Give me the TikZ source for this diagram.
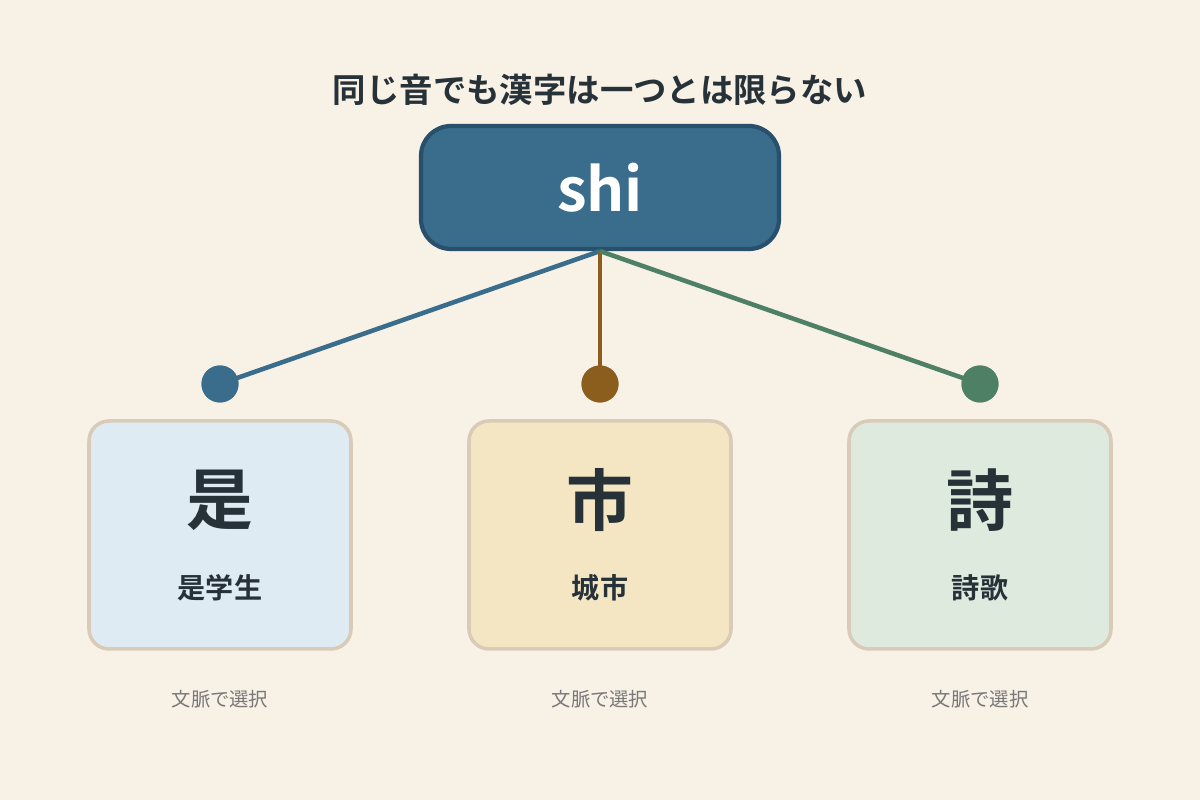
\documentclass[tikz,border=0pt]{standalone}
\usepackage{fontspec}
\setmainfont{Noto Sans CJK JP}
\newfontfamily\cjkbold{Noto Sans CJK JP Bold}
\usetikzlibrary{calc}
\definecolor[named]{myColorBg}{RGB}{247,241,230}
\definecolor[named]{myColorText}{RGB}{38,50,56}
\definecolor[named]{myColorBlue}{RGB}{58,109,140}
\definecolor[named]{myColorBlueDark}{RGB}{40,80,108}
\definecolor[named]{myColorBrown}{RGB}{139,94,30}
\definecolor[named]{myColorGreen}{RGB}{78,128,102}
\definecolor[named]{myColorBorder}{RGB}{217,203,184}
\definecolor[named]{myColorGray}{RGB}{120,120,120}
\begin{document}
\begin{tikzpicture}
[%
    root/.style={
      rectangle,
      draw=myColorBlueDark,
      line width=1.2pt,
      fill=myColorBlue,
      rounded corners=0.3cm,
      minimum width=3.58cm,
      minimum height=1.23cm,
      text=white,
      font=\cjkbold\fontsize{17}{20}\selectfont
    },
    card/.style={
      rectangle,
      draw=myColorBorder,
      line width=1pt,
      rounded corners=0.2cm,
      minimum width=2.62cm,
      minimum height=2.28cm
    },
    dot/.style={
      circle,
      minimum size=0.37cm,
      inner sep=0pt
    },
    kanji/.style={
      text=myColorText,
      font=\cjkbold\fontsize{19}{22}\selectfont
    },
    word/.style={
      text=myColorText,
      font=\cjkbold\fontsize{8}{10}\selectfont
    },
    note/.style={
      text=myColorGray,
      font=\fontsize{5.5}{7}\selectfont
    }
  ]
  \fill[myColorBg] (0,0) rectangle (12,8);
  \useasboundingbox (0,0) rectangle (12,8);
  %Title
  \node[text=myColorText, font=\cjkbold\fontsize{9.5}{12}\selectfont] (title) at (6,7.1) {同じ音でも漢字は一つとは限らない};
  \node[root] (shi) at (6,6.125) {shi};
  %Cards
  \node[card, fill={rgb,255:red,222;green,235;blue,242}] (c1) at (2.2,2.65) {};
  \node[card, fill={rgb,255:red,245;green,230;blue,195}] (c2) at (6,2.65) {};
  \node[card, fill={rgb,255:red,223;green,234;blue,223}] (c3) at (9.8,2.65) {};
  \node[kanji] (k1) at (2.2,3.0) {是};
  \node[kanji] (k2) at (6,3.0) {市};
  \node[kanji] (k3) at (9.8,3.0) {詩};
  \node[word] (w1) at (2.2,2.12) {是学生};
  \node[word] (w2) at (6,2.12) {城市};
  \node[word] (w3) at (9.8,2.12) {詩歌};
  \node[note] (n1) at (2.2,1.01) {文脈で選択};
  \node[note] (n2) at (6,1.01) {文脈で選択};
  \node[note] (n3) at (9.8,1.01) {文脈で選択};
  %Connectors
  \node[dot, fill=myColorBlue] (d1) at (2.2,4.16) {};
  \node[dot, fill=myColorBrown] (d2) at (6,4.16) {};
  \node[dot, fill=myColorGreen] (d3) at (9.8,4.16) {};
  \draw[myColorBlue, line width=1.3pt] (shi.south) -- (d1.center);
  \draw[myColorBrown, line width=1.3pt] (shi.south) -- (d2.center);
  \draw[myColorGreen, line width=1.3pt] (shi.south) -- (d3.center);
  \node[dot, fill=myColorBlue] at (d1) {};
  \node[dot, fill=myColorBrown] at (d2) {};
  \node[dot, fill=myColorGreen] at (d3) {};
\end{tikzpicture}
\end{document}
